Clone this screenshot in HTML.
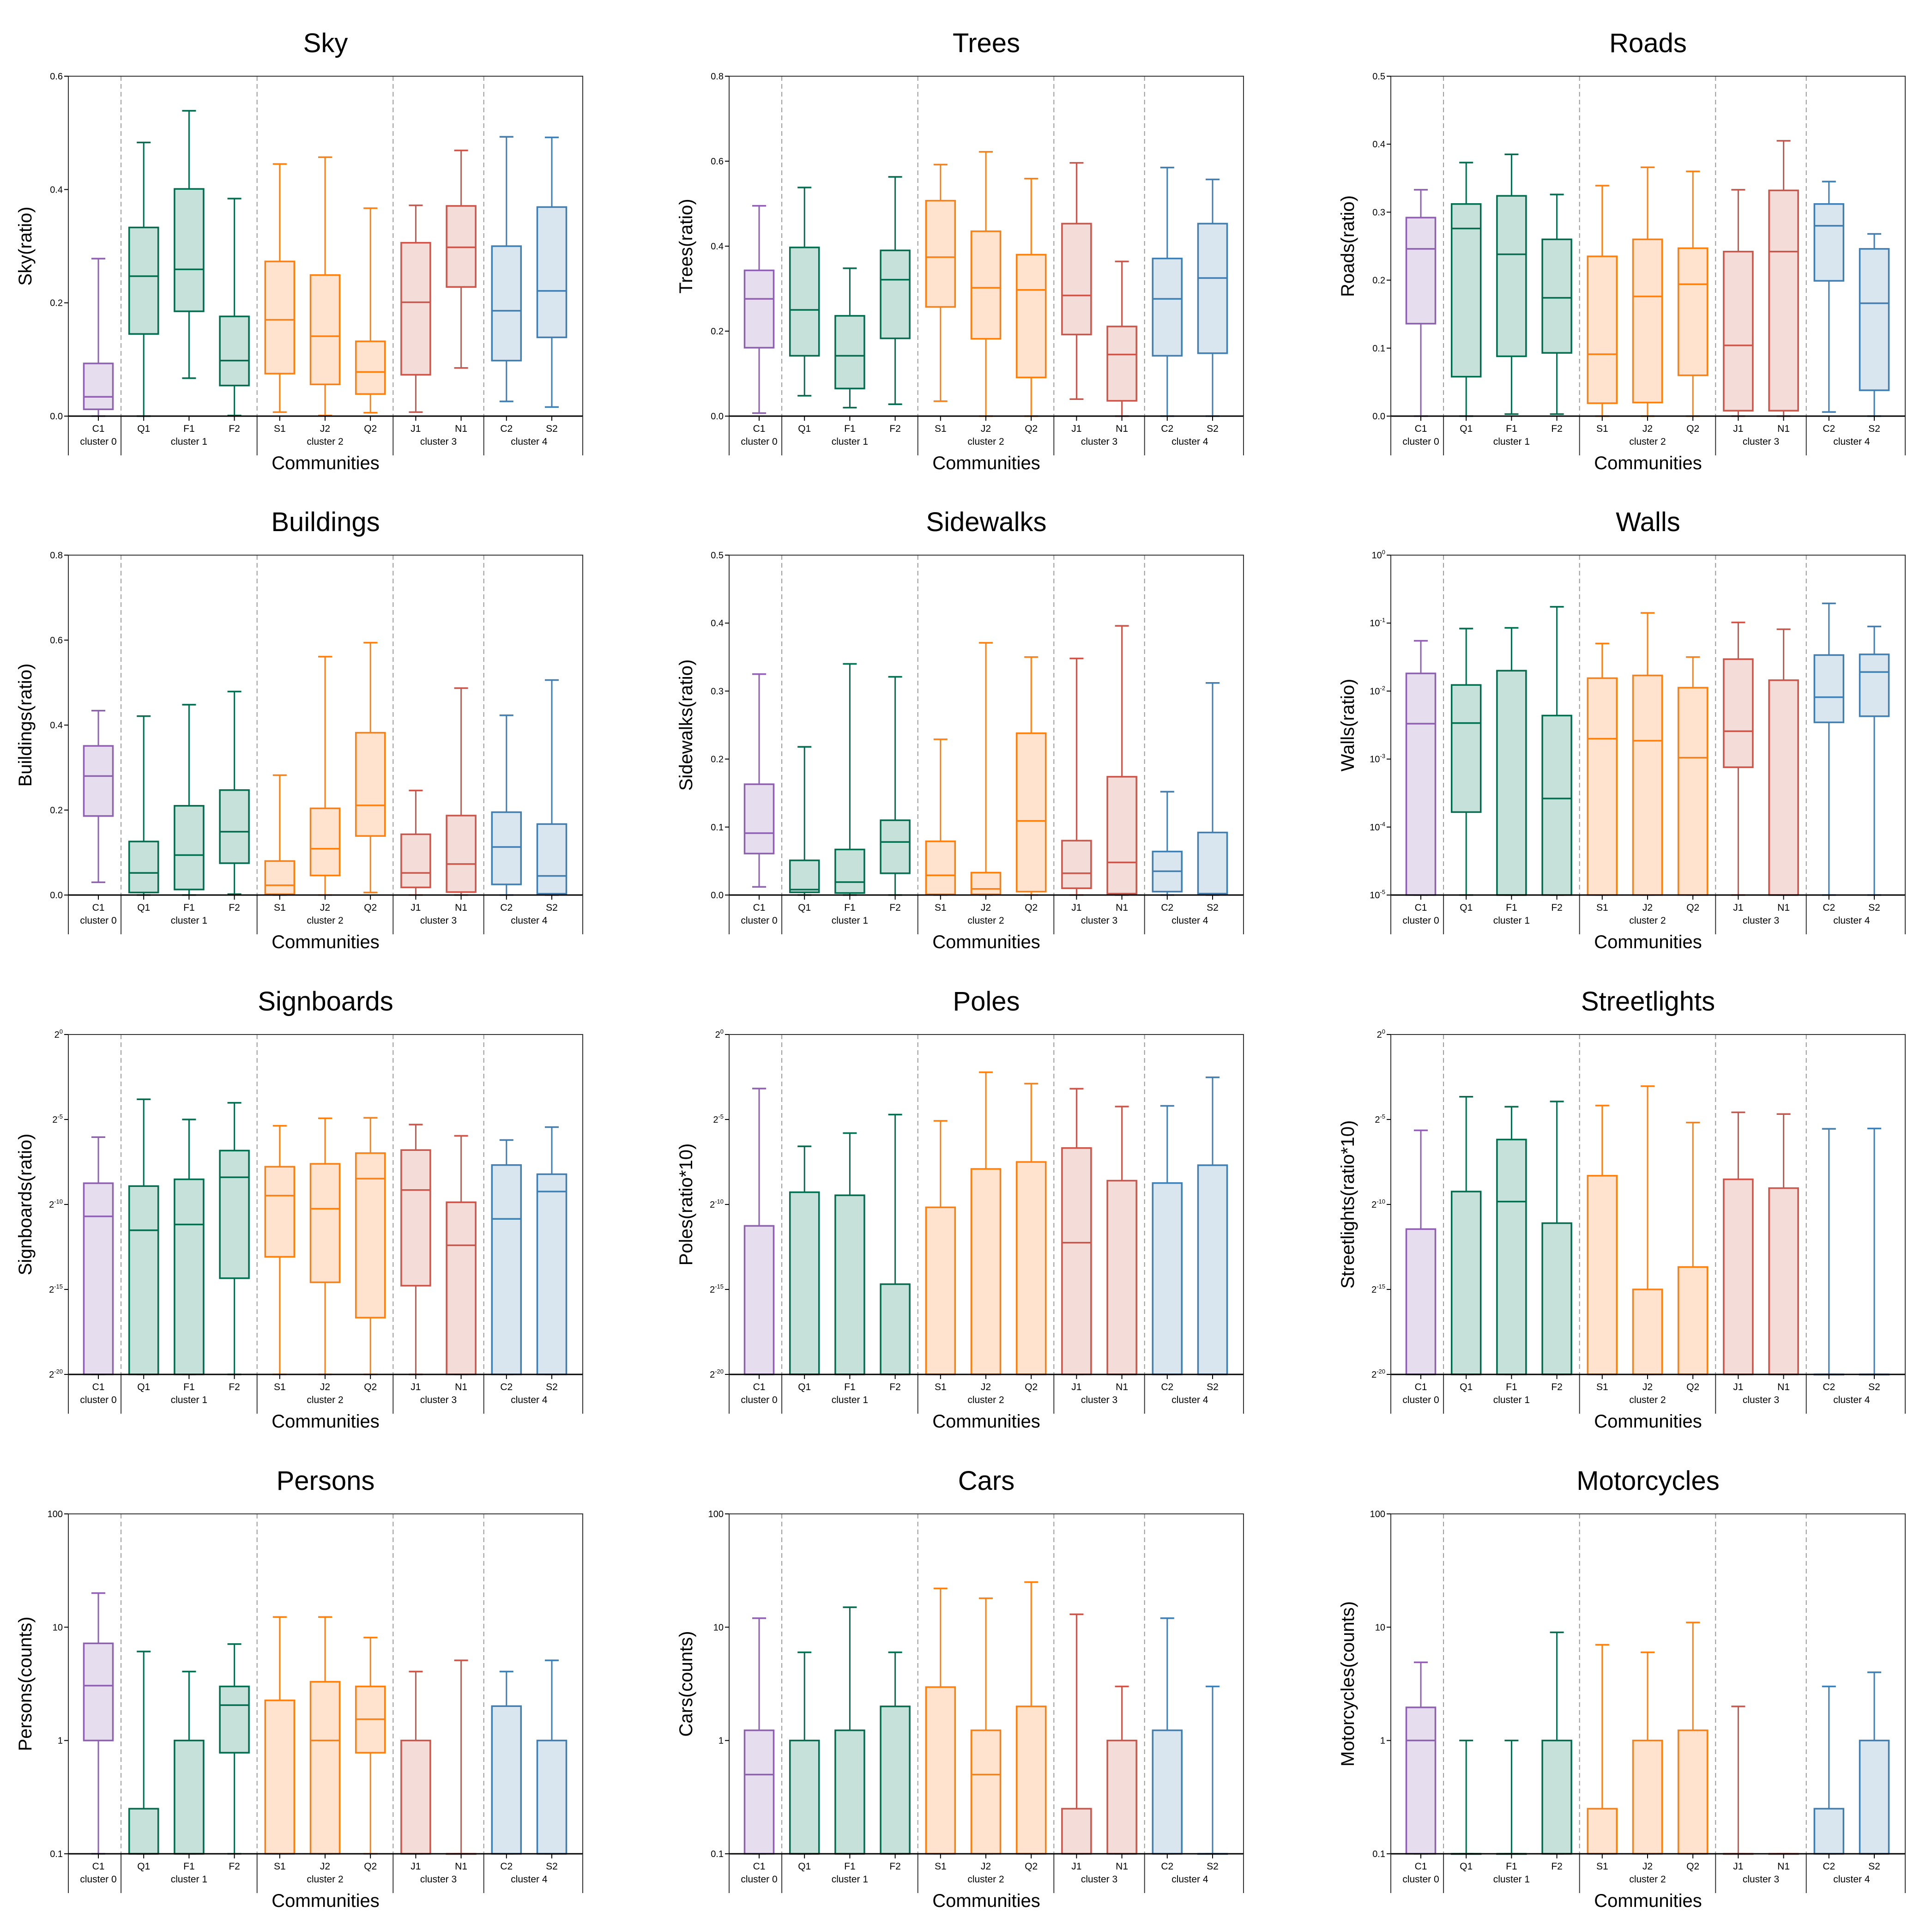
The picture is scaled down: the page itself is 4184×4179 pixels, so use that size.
<!DOCTYPE html>
<html><head><meta charset="utf-8"><title>Street view element ratios by community</title>
<style>
html,body{margin:0;padding:0;background:#fff;}
svg{display:block;font-family:"Liberation Sans",Arial,sans-serif;}
</style></head>
<body>
<svg id="fig" xmlns="http://www.w3.org/2000/svg" width="4184" height="4179" viewBox="0 0 4184 4179"></svg>
<script>
const categories = ['C1','Q1','F1','F2','S1','J2','Q2','J1','N1','C2','S2'];
const groupOf = [0,1,1,1,2,2,2,3,3,4,4];
const clusterNames = ['cluster 0','cluster 1','cluster 2','cluster 3','cluster 4'];
const clusterCenters = [0,2,5,7.5,9.5];
const separators = [0.5,3.5,6.5,8.5];

// Sky (ratio)
const skyLow  = [0,0,0.067,0.001,0.007,0.001,0.006,0.007,0.085,0.026,0.016];
const skyQ1   = [0.012,0.145,0.185,0.054,0.075,0.056,0.039,0.073,0.228,0.098,0.139];
const skyMed  = [0.034,0.247,0.259,0.098,0.170,0.141,0.078,0.201,0.298,0.186,0.221];
const skyQ3   = [0.093,0.333,0.401,0.176,0.273,0.249,0.132,0.306,0.371,0.300,0.369];
const skyHigh = [0.278,0.483,0.539,0.384,0.445,0.457,0.367,0.372,0.469,0.493,0.492];
// Trees (ratio)
const treesLow  = [0.007,0.048,0.020,0.028,0.035,0,0,0.040,0,0,0];
const treesQ1   = [0.161,0.142,0.065,0.183,0.257,0.182,0.091,0.192,0.036,0.142,0.148];
const treesMed  = [0.276,0.250,0.142,0.321,0.374,0.302,0.297,0.284,0.145,0.276,0.325];
const treesQ3   = [0.343,0.397,0.236,0.390,0.507,0.435,0.380,0.453,0.211,0.371,0.453];
const treesHigh = [0.495,0.538,0.348,0.563,0.592,0.622,0.559,0.596,0.364,0.585,0.557];
// Roads (ratio)
const roadsLow  = [0,0,0.003,0.003,0,0,0,0,0,0.006,0];
const roadsQ1   = [0.136,0.058,0.088,0.093,0.019,0.020,0.060,0.008,0.008,0.199,0.038];
const roadsMed  = [0.246,0.276,0.238,0.174,0.091,0.176,0.194,0.104,0.242,0.280,0.166];
const roadsQ3   = [0.292,0.312,0.324,0.260,0.235,0.260,0.247,0.242,0.332,0.312,0.246];
const roadsHigh = [0.333,0.373,0.385,0.326,0.339,0.366,0.360,0.333,0.405,0.345,0.268];
// Buildings (ratio)
const buildLow  = [0.030,0,0,0.002,0,0,0.006,0,0,0,0];
const buildQ1   = [0.186,0.006,0.013,0.075,0.002,0.046,0.139,0.018,0.007,0.025,0.003];
const buildMed  = [0.280,0.052,0.094,0.149,0.023,0.109,0.211,0.052,0.073,0.113,0.045];
const buildQ3   = [0.351,0.126,0.210,0.247,0.080,0.204,0.382,0.143,0.187,0.195,0.167];
const buildHigh = [0.434,0.421,0.448,0.479,0.282,0.561,0.594,0.246,0.487,0.423,0.506];
// Sidewalks (ratio)
const sideLow  = [0.012,0,0,0,0,0,0,0,0,0,0];
const sideQ1   = [0.061,0.004,0.003,0.032,0.001,0.001,0.005,0.010,0.002,0.005,0.001];
const sideMed  = [0.091,0.008,0.019,0.078,0.029,0.009,0.109,0.032,0.048,0.035,0.002];
const sideQ3   = [0.163,0.051,0.067,0.110,0.079,0.033,0.238,0.080,0.174,0.064,0.092];
const sideHigh = [0.325,0.218,0.340,0.321,0.229,0.371,0.350,0.348,0.396,0.152,0.312];
// Walls (log10 exponent of ratio)
const wallsLowExp  = [-5,-5,-5,-5,-5,-5,-5,-5,-5,-5,-5];
const wallsQ1Exp   = [-5,-3.78,-5,-5,-5,-5,-5,-3.12,-5,-2.46,-2.37];
const wallsMedExp  = [-2.48,-2.47,-5,-3.58,-2.70,-2.73,-2.98,-2.59,-5,-2.09,-1.72];
const wallsQ3Exp   = [-1.74,-1.91,-1.70,-2.36,-1.81,-1.77,-1.95,-1.53,-1.84,-1.47,-1.46];
const wallsHighExp = [-1.26,-1.08,-1.07,-0.76,-1.30,-0.85,-1.50,-0.99,-1.09,-0.71,-1.05];
// Signboards (log2 exponent of ratio)
const signLowExp  = [-20,-20,-20,-20,-20,-20,-20,-20,-20,-20,-20];
const signQ1Exp   = [-20,-20,-20,-14.34,-13.08,-14.58,-16.66,-14.78,-20,-20,-20];
const signMedExp  = [-10.70,-11.52,-11.18,-8.40,-9.48,-10.25,-8.48,-9.15,-12.40,-10.85,-9.24];
const signQ3Exp   = [-8.75,-8.92,-8.52,-6.83,-7.78,-7.61,-6.98,-6.80,-9.87,-7.68,-8.22];
const signHighExp = [-6.04,-3.81,-5.00,-4.02,-5.37,-4.93,-4.90,-5.30,-5.96,-6.21,-5.45];
// Poles (log2 exponent of ratio*10)
const polesLowExp  = [-20,-20,-20,-20,-20,-20,-20,-20,-20,-20,-20];
const polesQ1Exp   = [-20,-20,-20,-20,-20,-20,-20,-20,-20,-20,-20];
const polesMedExp  = [-20,-20,-20,-20,-20,-20,-20,-12.25,-20,-20,-20];
const polesQ3Exp   = [-11.26,-9.28,-9.46,-14.69,-10.17,-7.91,-7.50,-6.68,-8.60,-8.74,-7.69];
const polesHighExp = [-3.18,-6.58,-5.80,-4.71,-5.08,-2.22,-2.89,-3.19,-4.24,-4.20,-2.52];
// Streetlights (log2 exponent of ratio*10)
const lightsLowExp  = [-20,-20,-20,-20,-20,-20,-20,-20,-20,-20,-20];
const lightsQ1Exp   = [-20,-20,-20,-20,-20,-20,-20,-20,-20,-20,-20];
const lightsMedExp  = [-20,-20,-9.83,-20,-20,-20,-20,-20,-20,-20,-20];
const lightsQ3Exp   = [-11.45,-9.24,-6.18,-11.10,-8.31,-15.00,-13.68,-8.52,-9.04,-20,-20];
const lightsHighExp = [-5.64,-3.66,-4.25,-3.94,-4.18,-3.04,-5.18,-4.58,-4.68,-5.55,-5.53];
// Persons (counts)
const personsLow  = [0.1,0.1,0.1,0.1,0.1,0.1,0.1,0.1,0.1,0.1,0.1];
const personsQ1   = [1.0,0.1,0.1,0.78,0.1,0.1,0.78,0.1,0.1,0.1,0.1];
const personsMed  = [3.05,0.1,0.1,2.05,0.1,1.0,1.54,0.1,0.1,0.1,0.1];
const personsQ3   = [7.2,0.25,1.0,3.0,2.26,3.3,3.0,1.0,0.1,2.01,1.0];
const personsHigh = [20,6.1,4.06,7.1,12.3,12.3,8.1,4.06,5.1,4.06,5.1];
// Cars (counts)
const carsLow  = [0.1,0.1,0.1,0.1,0.1,0.1,0.1,0.1,0.1,0.1,0.1];
const carsQ1   = [0.1,0.1,0.1,0.1,0.1,0.1,0.1,0.1,0.1,0.1,0.1];
const carsMed  = [0.5,0.1,0.1,0.1,0.1,0.5,0.1,0.1,0.1,0.1,0.1];
const carsQ3   = [1.23,1.0,1.23,2.0,2.96,1.23,2.0,0.25,1.0,1.23,0.1];
const carsHigh = [12,6,15,6,22,18,25,13,3.0,12,3.0];
// Motorcycles (counts)
const motoLow  = [0.1,0.1,0.1,0.1,0.1,0.1,0.1,0.1,0.1,0.1,0.1];
const motoQ1   = [0.1,0.1,0.1,0.1,0.1,0.1,0.1,0.1,0.1,0.1,0.1];
const motoMed  = [1.0,0.1,0.1,0.1,0.1,0.1,0.1,0.1,0.1,0.1,0.1];
const motoQ3   = [1.96,0.1,0.1,1.0,0.25,1.0,1.23,0.1,0.1,0.25,1.0];
const motoHigh = [4.9,1.0,1.0,9,7,6,11,2,0.1,3,4];

const linTicks6 = [0,0.2,0.4,0.6], linTicks8=[0,0.2,0.4,0.6,0.8], linTicks5=[0,0.1,0.2,0.3,0.4,0.5];
const wallsTicks = [0,-1,-2,-3,-4,-5];
const pow2Ticks = [0,-5,-10,-15,-20];
const countTicks = [0.1,1,10,100];

const panels = [
 {key:'sky',title:'Sky',ylab:'Sky(ratio)',type:'lin',min:0,max:0.6,ticks:linTicks6,d:[skyLow,skyQ1,skyMed,skyQ3,skyHigh]},
 {key:'trees',title:'Trees',ylab:'Trees(ratio)',type:'lin',min:0,max:0.8,ticks:linTicks8,d:[treesLow,treesQ1,treesMed,treesQ3,treesHigh]},
 {key:'roads',title:'Roads',ylab:'Roads(ratio)',type:'lin',min:0,max:0.5,ticks:linTicks5,d:[roadsLow,roadsQ1,roadsMed,roadsQ3,roadsHigh]},
 {key:'buildings',title:'Buildings',ylab:'Buildings(ratio)',type:'lin',min:0,max:0.8,ticks:linTicks8,d:[buildLow,buildQ1,buildMed,buildQ3,buildHigh]},
 {key:'sidewalks',title:'Sidewalks',ylab:'Sidewalks(ratio)',type:'lin',min:0,max:0.5,ticks:linTicks5,d:[sideLow,sideQ1,sideMed,sideQ3,sideHigh]},
 {key:'walls',title:'Walls',ylab:'Walls(ratio)',type:'exp',base:'10',min:-5,max:0,ticks:wallsTicks,d:[wallsLowExp,wallsQ1Exp,wallsMedExp,wallsQ3Exp,wallsHighExp]},
 {key:'signboards',title:'Signboards',ylab:'Signboards(ratio)',type:'exp',base:'2',min:-20,max:0,ticks:pow2Ticks,d:[signLowExp,signQ1Exp,signMedExp,signQ3Exp,signHighExp]},
 {key:'poles',title:'Poles',ylab:'Poles(ratio*10)',type:'exp',base:'2',min:-20,max:0,ticks:pow2Ticks,d:[polesLowExp,polesQ1Exp,polesMedExp,polesQ3Exp,polesHighExp]},
 {key:'streetlights',title:'Streetlights',ylab:'Streetlights(ratio*10)',type:'exp',base:'2',min:-20,max:0,ticks:pow2Ticks,d:[lightsLowExp,lightsQ1Exp,lightsMedExp,lightsQ3Exp,lightsHighExp]},
 {key:'persons',title:'Persons',ylab:'Persons(counts)',type:'log',min:0.1,max:100,ticks:countTicks,d:[personsLow,personsQ1,personsMed,personsQ3,personsHigh]},
 {key:'cars',title:'Cars',ylab:'Cars(counts)',type:'log',min:0.1,max:100,ticks:countTicks,d:[carsLow,carsQ1,carsMed,carsQ3,carsHigh]},
 {key:'motorcycles',title:'Motorcycles',ylab:'Motorcycles(counts)',type:'log',min:0.1,max:100,ticks:countTicks,d:[motoLow,motoQ1,motoMed,motoQ3,motoHigh]}
];

const strokeCols = ['#8e5fb3','#006d4e','#ff7f0e','#cc5448','#3d7eb4'];
const fillCols   = ['#e6deee','#c6e1da','#ffe3cf','#f4dcd8','#dae6ef'];
const colLefts = [148,1579,3012];
const rowTops = [165,1202,2240,3278];
const PW = 1114, PH = 736;
const NS = 'http://www.w3.org/2000/svg';
const svg = document.getElementById('fig');

function mk(tag, attrs, parent){
  const e = document.createElementNS(NS, tag);
  for (const k in attrs) e.setAttribute(k, attrs[k]);
  (parent||svg).appendChild(e);
  return e;
}

panels.forEach((p, idx) => {
  const L = colLefts[idx%3], T = rowTops[Math.floor(idx/3)], B = T+PH, R = L+PW;
  const g = mk('g', {});
  
  
  const xPos = i => L + 65 + i*98.2;
  const yPos = v => {
    let f;
    if (p.type === 'lin' || p.type === 'exp') f = (v - p.min)/(p.max - p.min);
    else f = (Math.log10(v) - Math.log10(p.min))/(Math.log10(p.max) - Math.log10(p.min));
    return B - f*PH;
  };
  // title
  const t = mk('text', {x:L+PW/2, y:T-52, 'font-size':58, 'text-anchor':'middle', fill:'#000'}, g);
  t.textContent = p.title;
  
  
  // separators
  separators.forEach(s => {
    const ln = mk('line', {x1:xPos(s), x2:xPos(s), y1:T, y2:B, stroke:'#999', 'stroke-width':2, 'stroke-dasharray':'10,7'}, g);
    
    
    const ln2 = mk('line', {x1:xPos(s), x2:xPos(s), y1:B, y2:B+85, stroke:'#333', 'stroke-width':2}, g);
    
    
  });
  // boxes
  categories.forEach((c, i) => {
    const gi = groupOf[i];
    const sc = strokeCols[gi], fc = fillCols[gi];
    const lo = yPos(p.d[0][i]), q1 = yPos(p.d[1][i]), md = yPos(p.d[2][i]), q3 = yPos(p.d[3][i]), hi = yPos(p.d[4][i]);
    const x = xPos(c === undefined ? 0 : i), bw = 63, cw = 30;
    const bg = mk('g', {}, g);
    
    
    mk('line', {x1:x, x2:x, y1:q3, y2:hi, stroke:sc, 'stroke-width':3}, bg);
    mk('line', {x1:x, x2:x, y1:q1, y2:lo, stroke:sc, 'stroke-width':3}, bg);
    mk('line', {x1:x-cw/2, x2:x+cw/2, y1:hi, y2:hi, stroke:sc, 'stroke-width':3.5}, bg);
    mk('line', {x1:x-cw/2, x2:x+cw/2, y1:lo, y2:lo, stroke:sc, 'stroke-width':3.5}, bg);
    mk('rect', {x:x-bw/2, y:Math.min(q1,q3), width:bw, height:Math.max(Math.abs(q1-q3),0.5), fill:fc, stroke:sc, 'stroke-width':3.5}, bg);
    mk('line', {x1:x-bw/2, x2:x+bw/2, y1:md, y2:md, stroke:sc, 'stroke-width':3.5}, bg);
    // x tick + label
    mk('line', {x1:x, x2:x, y1:B, y2:B+10, stroke:'#000', 'stroke-width':2}, g);
    const xl = mk('text', {x:x, y:B+34, 'font-size':21, 'text-anchor':'middle', fill:'#000'}, g);
    xl.textContent = c;
    
    
  });
  clusterNames.forEach((n, k) => {
    const cl = mk('text', {x:xPos(clusterCenters[k]), y:B+62, 'font-size':21, 'text-anchor':'middle', fill:'#000'}, g);
    cl.textContent = n;
    
    
  });
  // frame
  const fr = mk('rect', {x:L, y:T, width:PW, height:PH, fill:'none', stroke:'#333', 'stroke-width':2}, g);
  
  
  mk('line', {x1:L, x2:R, y1:B, y2:B, stroke:'#000', 'stroke-width':3}, g);
  mk('line', {x1:L, x2:L, y1:B, y2:B+85, stroke:'#333', 'stroke-width':2}, g);
  mk('line', {x1:R, x2:R, y1:B, y2:B+85, stroke:'#333', 'stroke-width':2}, g);
  // y ticks
  p.ticks.forEach(tv => {
    const y = yPos(tv);
    mk('line', {x1:L-9, x2:L, y1:y, y2:y, stroke:'#000', 'stroke-width':2}, g);
    const tl = mk('text', {x:L-12, y:y+7, 'font-size':20, 'text-anchor':'end', fill:'#000'}, g);
    
    
    if (p.type === 'lin') tl.textContent = tv.toFixed(1);
    else if (p.type === 'log') tl.textContent = (tv < 1 ? tv.toFixed(1) : String(tv));
    else {
      tl.textContent = p.base;
      const sup = mk('tspan', {'font-size':13, dy:-9}, tl);
      sup.textContent = String(tv);
    }
  });
  // y-axis title
  const yt = mk('text', {x:0, y:0, 'font-size':40, 'text-anchor':'middle', fill:'#000', transform:'translate(' + (L-80) + ',' + (T+PH/2) + ') rotate(-90)'}, g);
  yt.textContent = p.ylab;
  
  
  // x-axis title
  const xt = mk('text', {x:L+PW/2, y:B+115, 'font-size':40, 'text-anchor':'middle', fill:'#000'}, g);
  xt.textContent = 'Communities';
  
  
});
</script>
</body></html>
